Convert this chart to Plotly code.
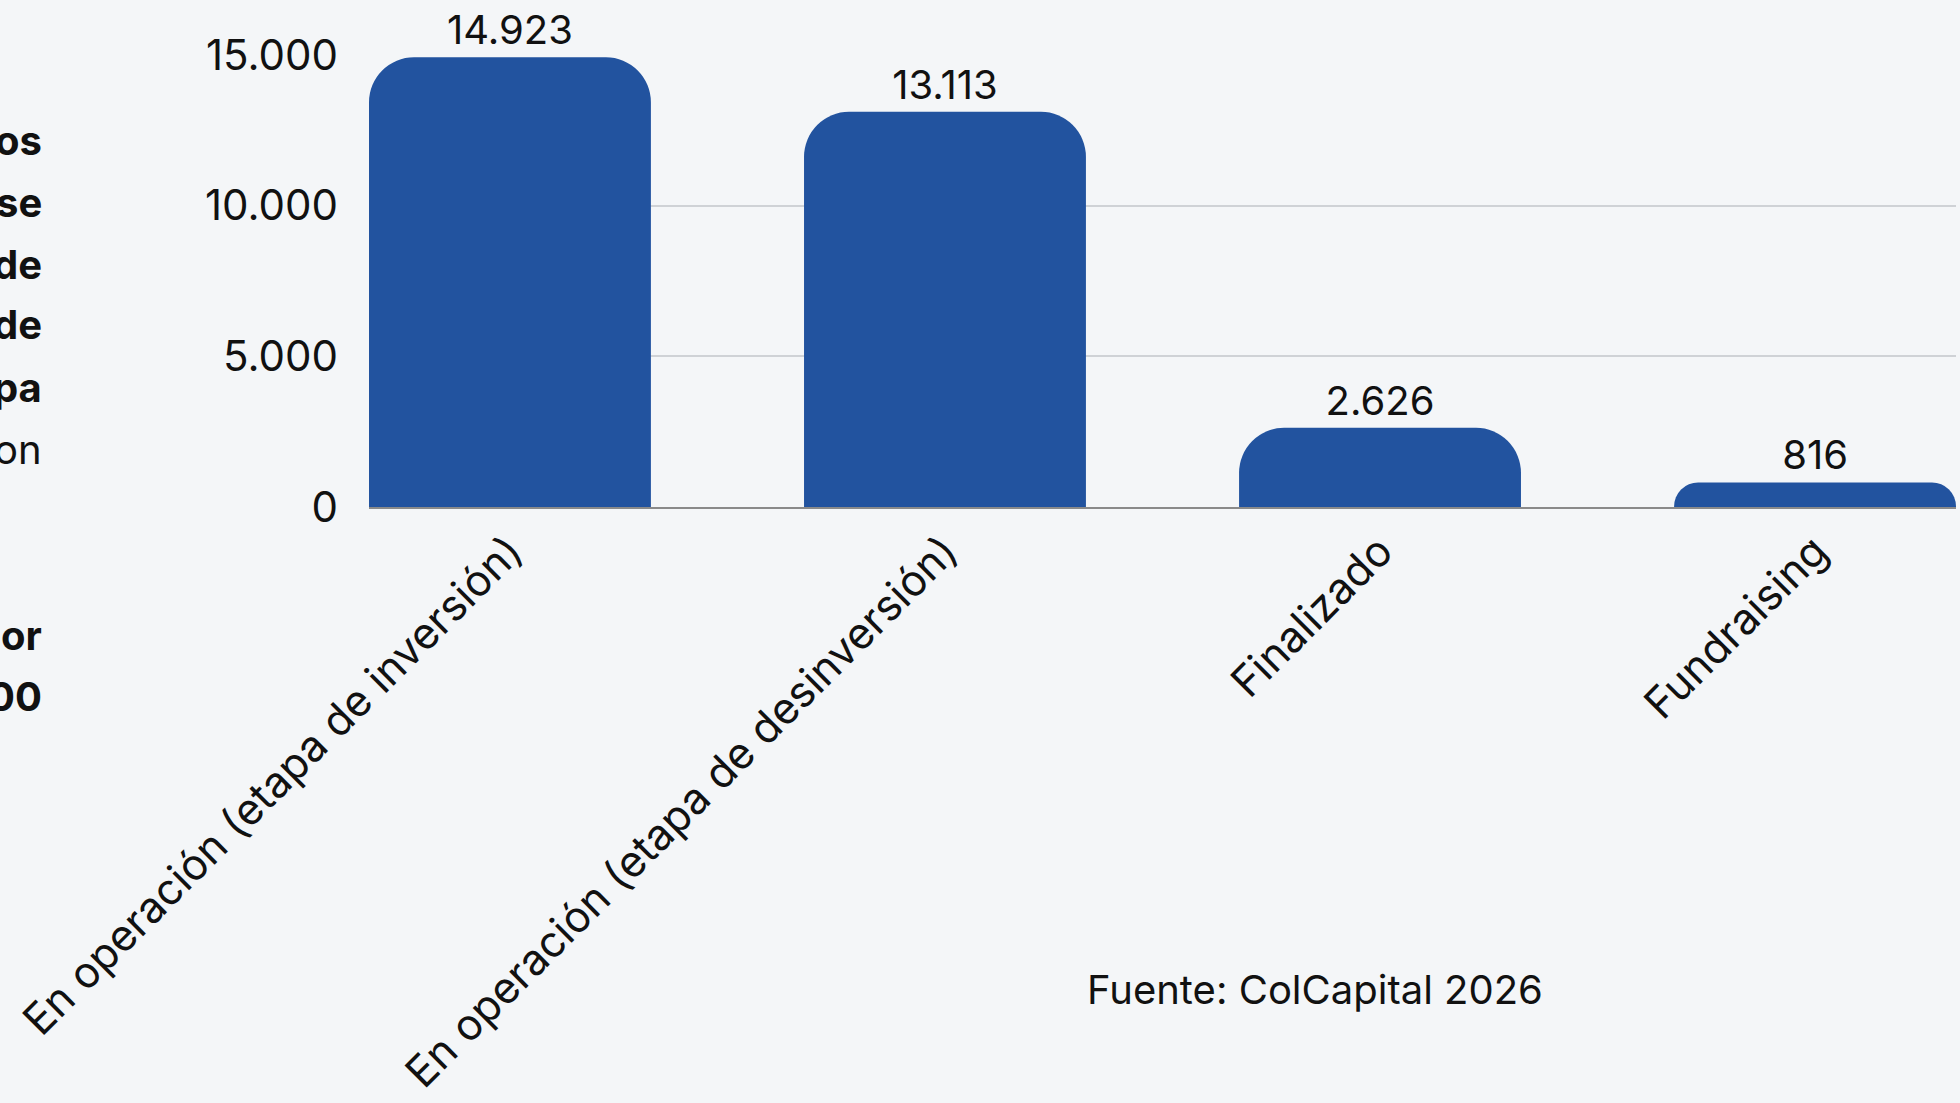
import plotly.graph_objects as go

# Fondos por etapa (número de fondos / valores)
etapas = [
    "En operación (etapa de inversión)",
    "En operación (etapa de desinversión)",
    "Finalizado",
    "Fundraising",
]
valores = [14923, 13113, 2626, 816]
y_ticks = [0, 5000, 10000, 15000]

# Fragmentos del texto de la columna izquierda (recortado por el borde)
texto_lateral = ["os", "se", "de", "de", "pa", "on", "or", "00"]
texto_lateral_negrita = [True, True, True, True, True, False, True, True]
texto_lateral_y = [140, 202, 264, 325, 387, 449, 635, 696]

fuente = "Fuente: ColCapital 2026"

FONT = "Inter"
BAR_COLOR = "#22539F"
BG = "#F4F6F8"

W, H = 1960, 1103
M_L, M_R, M_T, M_B = 369, 4, 55, 596
plot_h = H - M_T - M_B
plot_w = W - M_L - M_R

fig = go.Figure(
    go.Bar(
        x=etapas,
        y=valores,
        marker=dict(color=BAR_COLOR, cornerradius=45, line=dict(width=0)),
        texttemplate="%{y:,.0f}",
        textposition="outside",
        textfont=dict(family=FONT, size=40, color="#111111"),
        constraintext="none",
        cliponaxis=False,
        width=0.648,
    )
)

fig.update_layout(
    width=W,
    height=H,
    margin=dict(l=M_L, r=M_R, t=M_T, b=M_B),
    paper_bgcolor=BG,
    plot_bgcolor=BG,
    separators=",.",
    showlegend=False,
    font=dict(family=FONT, color="#111111"),
)

fig.update_xaxes(
    range=[-0.324, 3.324],
    tickangle=-45,
    tickfont=dict(family=FONT, size=43, color="#111111"),
    showline=True,
    linecolor="#8a8a8a",
    linewidth=1.5,
    showgrid=False,
    ticks="",
)

fig.update_yaxes(
    range=[0, 15000],
    tickvals=y_ticks,
    tickformat=",.0f",
    tickfont=dict(family=FONT, size=42, color="#111111"),
    showgrid=True,
    gridcolor="#cfd2d6",
    gridwidth=1.5,
    zeroline=False,
    showline=False,
    ticks="",
    ticklabelstandoff=30,
)

# Columna de texto lateral
for txt, bold, yp in zip(texto_lateral, texto_lateral_negrita, texto_lateral_y):
    fig.add_annotation(
        xref="paper",
        yref="paper",
        x=(44 - M_L) / plot_w,
        y=(H - M_B - yp) / plot_h,
        xanchor="right",
        yanchor="middle",
        text=f"<b>{txt}</b>" if bold else txt,
        showarrow=False,
        font=dict(family=FONT, size=40, color="#111111"),
    )

fig.add_annotation(
    xref="paper",
    yref="paper",
    x=(1085 - M_L) / plot_w,
    y=(H - M_B - 989) / plot_h,
    xanchor="left",
    yanchor="middle",
    text=fuente,
    showarrow=False,
    font=dict(family=FONT, size=40, color="#111111"),
)

fig.write_html("out.html")
